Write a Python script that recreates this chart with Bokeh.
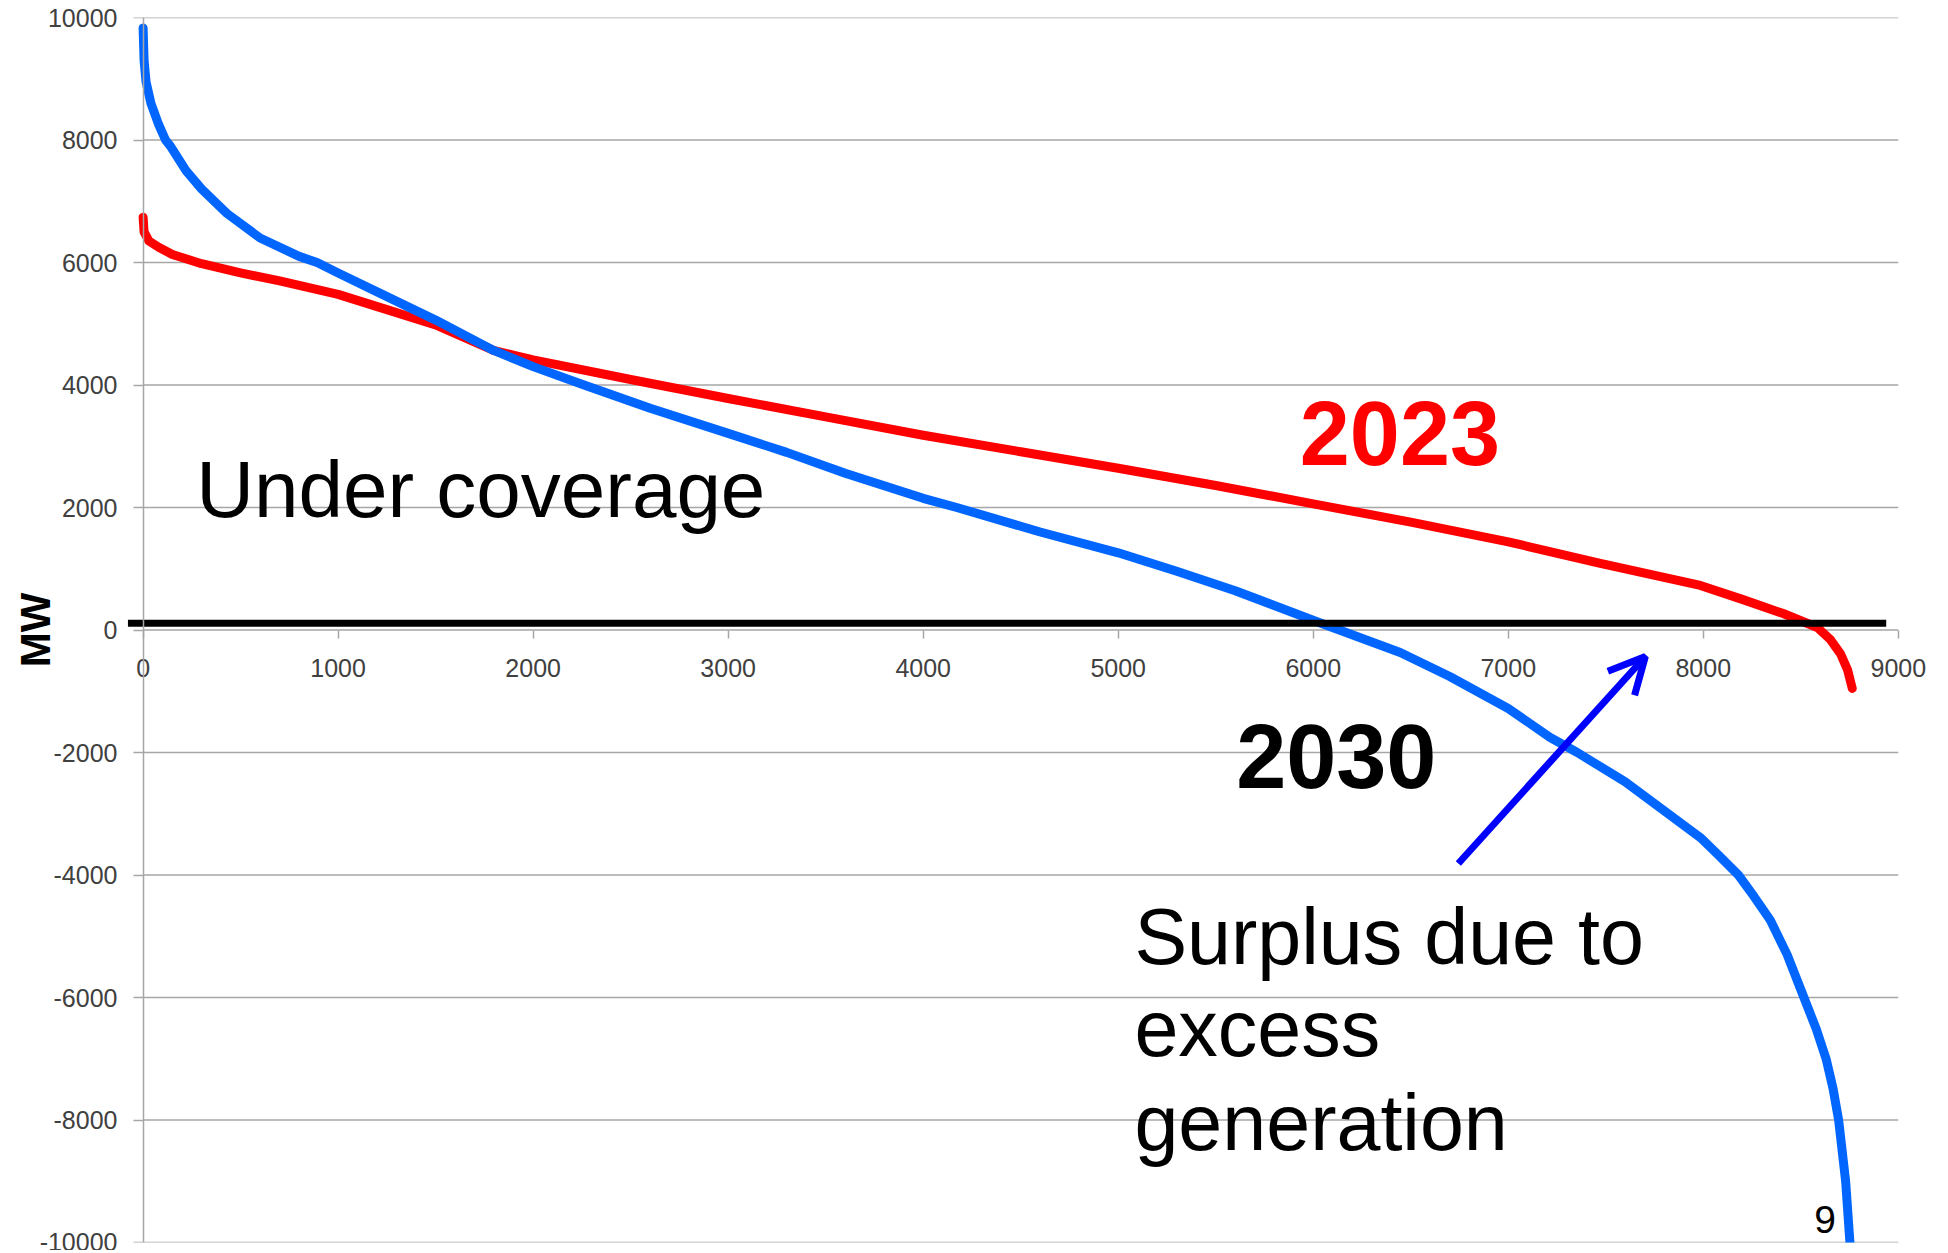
from bokeh.plotting import figure
from bokeh.models import (Range1d, FixedTicker, Arrow, OpenHead, LinearAxis,
                          NumeralTickFormatter)
from bokeh.core.properties import value
from bokeh.embed import file_html
from bokeh.resources import INLINE

# ---- data ----
hours_2030 = [0, 5, 15, 40, 80, 115, 140, 220, 300, 430, 600, 800, 892, 1000, 1200,
              1500, 1800, 2000, 2261, 2600, 3000, 3300, 3600, 4000, 4172, 4600, 5000,
              5300, 5600, 5800, 6040, 6446, 6700, 7000, 7215, 7354, 7600, 7985, 8080,
              8180, 8260, 8344, 8430, 8516, 8580, 8631, 8665, 8694, 8730, 8752]
mw_2030 = [9830, 9300, 8950, 8600, 8250, 8000, 7900, 7500, 7200, 6800, 6400, 6100, 6000,
           5830, 5520, 5060, 4560, 4300, 4000, 3620, 3210, 2900, 2560, 2150, 2000, 1600,
           1260, 960, 640, 400, 110, -367, -760, -1282, -1755, -2000, -2480, -3388, -3680,
           -4000, -4350, -4740, -5300, -6000, -6520, -7015, -7480, -8000, -9000, -10000]

hours_2023 = [0, 5, 30, 80, 150, 300, 500, 700, 1000, 1250, 1500, 1800, 2000, 2500,
              3000, 3500, 4000, 4500, 5000, 5500, 6000, 6500, 7000, 7472, 7985, 8200,
              8410, 8585, 8650, 8703, 8740, 8764]
mw_2023 = [6740, 6500, 6350, 6250, 6130, 5980, 5830, 5700, 5480, 5230, 4980, 4560, 4410,
           4090, 3780, 3480, 3180, 2910, 2640, 2360, 2060, 1760, 1440, 1086, 727, 500,
           269, 41, -150, -384, -650, -955]

x_ticks = [0, 1000, 2000, 3000, 4000, 5000, 6000, 7000, 8000, 9000]
y_ticks = [-10000, -8000, -6000, -4000, -2000, 0, 2000, 4000, 6000, 8000, 10000]

baseline_x = [-78, 8938]
baseline_y = [110, 110]

FONT = "Liberation Sans"
GRID = "#a6a6a6"

p = figure(frame_width=1802, frame_height=1225, output_backend="svg",
           toolbar_location=None,
           x_range=Range1d(-80, 9160), y_range=Range1d(-10000, 10000),
           min_border_left=127, min_border_right=8, min_border_top=17,
           min_border_bottom=8)
p.outline_line_color = None
p.background_fill_color = "white"
p.grid.visible = False

# horizontal gridlines, limited to the 0..9000 span of the chart
p.segment(x0=[x_ticks[0]] * len(y_ticks), x1=[x_ticks[-1]] * len(y_ticks),
          y0=y_ticks, y1=y_ticks, line_color=GRID, line_width=1.5)

# x axis crossing at y = 0
xa = p.xaxis[0]
xa.fixed_location = 0
xa.ticker = FixedTicker(ticks=x_ticks)
xa.formatter = NumeralTickFormatter(format="0")
xa.axis_line_color = None
xa.major_tick_line_color = GRID
xa.major_tick_line_width = 1.5
xa.major_tick_in = 0
xa.major_tick_out = 8
xa.minor_tick_line_color = None
xa.major_label_standoff = 21
xa.major_label_text_font = FONT
xa.major_label_text_font_size = "25px"
xa.major_label_text_color = "#404040"

# left axis: labels + title only
ya = p.yaxis[0]
ya.ticker = FixedTicker(ticks=y_ticks)
ya.formatter = NumeralTickFormatter(format="0")
ya.axis_line_color = None
ya.major_tick_line_color = None
ya.minor_tick_line_color = None
ya.major_tick_in = 0
ya.major_tick_out = 0
ya.major_label_standoff = 10
ya.major_label_text_font = FONT
ya.major_label_text_font_size = "25px"
ya.major_label_text_color = "#404040"
ya.axis_label = "MW"
ya.axis_label_text_font = FONT
ya.axis_label_text_font_size = "42px"
ya.axis_label_text_font_style = "bold"
ya.axis_label_text_color = "black"
ya.axis_label_standoff = -22

# y axis line at x = 0 with outward ticks
ya2 = LinearAxis(fixed_location=0, ticker=FixedTicker(ticks=y_ticks),
                 axis_line_color=GRID, axis_line_width=1.5,
                 major_tick_line_color=GRID, major_tick_line_width=1.5,
                 major_tick_in=0, major_tick_out=10, minor_tick_line_color=None,
                 major_label_text_color=None, major_label_text_font_size="1px")
p.add_layout(ya2, "left")

# curves
p.line(hours_2023, mw_2023, line_color="#ff0000", line_width=9, line_cap="round",
       line_join="round")
p.line(hours_2030, mw_2030, line_color="#0066ff", line_width=9, line_cap="round",
       line_join="round")

# thick black reference line
p.line(baseline_x, baseline_y, line_color="black", line_width=7)

# arrow
p.add_layout(Arrow(end=OpenHead(size=36, line_color="#0000ff", line_width=7),
                   x_start=6744, y_start=-3812, x_end=7703, y_end=-433,
                   line_color="#0000ff", line_width=7))

# texts
def txt(x, y, s, size, color="black", bold=False):
    p.text(x=[x], y=[y], text=[s], text_font=value(FONT), text_font_size=size,
           text_color=color, text_font_style="bold" if bold else "normal",
           text_align="left", text_baseline="alphabetic")

txt(272, 2300, "Under coverage", "80px")
txt(5931, 3211, "2023", "90px", "#ff0000", True)
txt(5605, -2062, "2030", "90px", "black", True)
txt(5083, -5012, "Surplus due to", "79px")
txt(5083, -6506, "excess", "79px")
txt(5083, -8040, "generation", "79px")
txt(8569, -9621, "9", "39px")

open("out.html", "w").write(file_html(p, INLINE))
